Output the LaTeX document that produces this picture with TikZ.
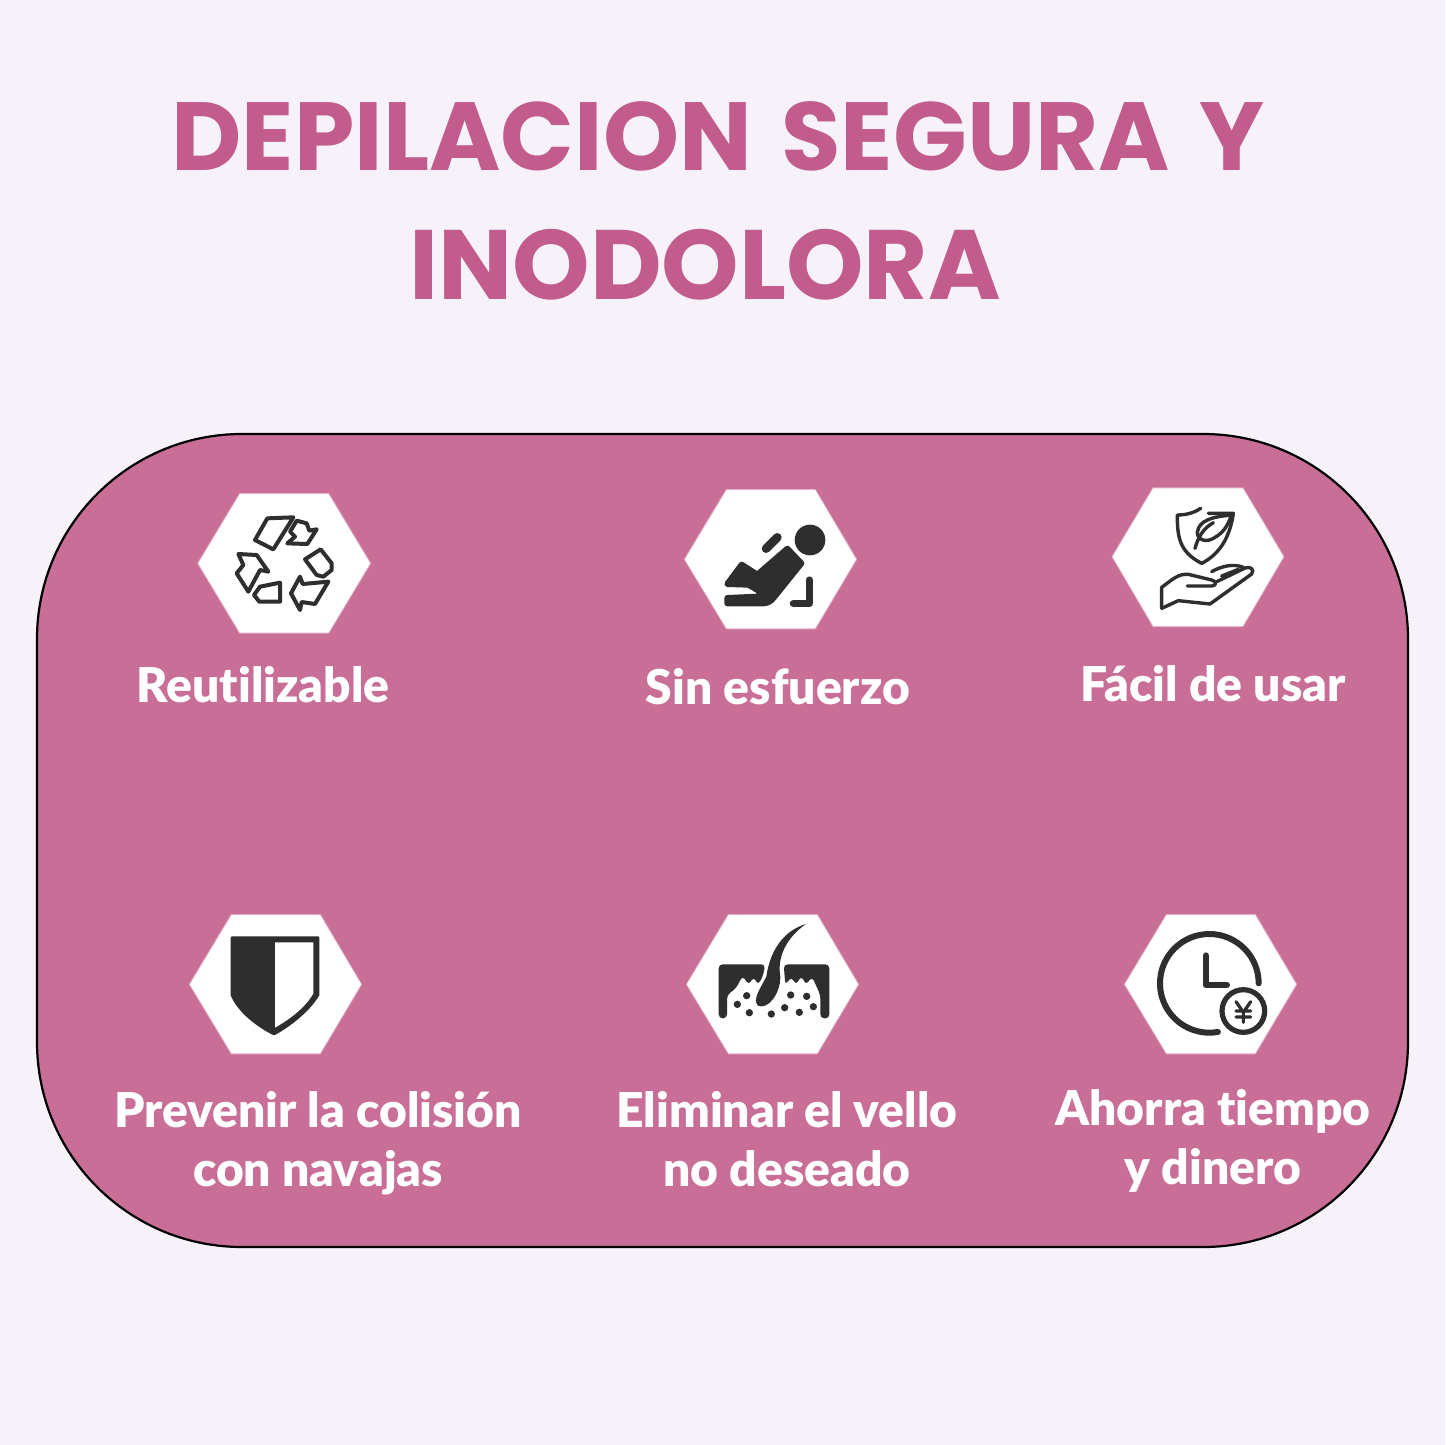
\documentclass[tikz,border=0pt]{standalone}
\usepackage{fontspec}
\setmainfont{Lato}[UprightFont=* Black,Ligatures=NoCommon]
\newfontfamily\titlefont{Poppins}[UprightFont=* Bold]
\definecolor{bgc}{HTML}{F7F2FA}
\definecolor{panelc}{HTML}{C86E97}
\definecolor{titlec}{HTML}{C25C8C}
\definecolor{inkc}{HTML}{2E2E2E}
\tikzset{
 titletext/.style={text=titlec,font=\titlefont\fontsize{48.4}{49}\selectfont,inner sep=0pt,anchor=base},
 labeltext/.style={text=white,font=\fontsize{24}{24}\selectfont,inner sep=0pt,anchor=base},
 ink/.style={draw=inkc,line width=2pt,line join=round,line cap=round},
 thinink/.style={draw=inkc,line width=1.7pt,line join=round,line cap=round},
 inkfill/.style={fill=inkc,draw=inkc,line width=1pt,line join=round,line cap=round},
 zoomed/.style={x=0.16667pt,y=-0.16667pt},
 hexshape/.style={draw=white,draw opacity=.45,line width=1pt,fill=white,line join=round},
}
% left x, right x, top-left x, top-right x, mid y, top y, bottom y
\newcommand{\hexagon}[7]{%
 \path[hexshape] (#1,#5)--(#3,#6)--(#4,#6)--(#2,#5)--(#4,#7)--(#3,#7)--cycle;}
\begin{document}
\begin{tikzpicture}[x=0.5pt,y=-0.5pt]
\useasboundingbox (0,0) rectangle (1445,1445);
\fill[bgc] (0,0) rectangle (1445,1445);
\node[titletext] (t1) at (718,170) {DEPILACION\ \hspace{4.5pt}SEGURA\ \hspace{4.5pt}Y};
\node[titletext,font=\titlefont\fontsize{49.3}{49}\selectfont] (t2) at (705,299) {INODOLORA};
\draw[fill=panelc,draw=black,line width=1.1pt] (37,434) [rounded corners=102.5pt] rectangle (1408,1247);
% icon 1
\begin{scope}[shift={(180,480)},zoomed]
\hexagon{55}{570}{180}{445}{250}{42}{458}
\draw[ink] (262,115)--(340,112)--(280,208)--(225,180)--cycle;
\draw[ink] (350,122)--(380,130)--(388,152)--(410,148)--(382,192)--(322,190)--(345,170)--(330,155)--cycle;
\draw[ink] (422,208)--(455,250)--(455,270)--(430,290)--(410,285)--(375,238)--cycle;
\draw[ink] (445,305)--(405,372)--(365,366)--(360,390)--(333,340)--(360,290)--(368,312)--cycle;
\draw[ink] (240,320)--(300,308)--(300,365)--(238,365)--(222,345)--cycle;
\draw[ink] (175,222)--(230,225)--(265,275)--(240,270)--(205,335)--(170,280)--(190,255)--cycle;
\end{scope}
% icon 2
\begin{scope}[shift={(670,480)},zoomed]
\hexagon{45}{558}{170}{435}{238}{30}{445}
\fill[inkc] (420,180) circle (46);
\draw[inkc,line width=4.3pt,line cap=round] (288,206)--(322,172);
\draw[inkfill,line width=3pt] (352,206)--(394,250)--(312,352)..controls (302,365) and (292,370) .. (278,370)--(172,370)--(172,354)--(262,350)--(276,338)--(235,314)--(172,312)--(215,254)--(262,284)--cycle;
\draw[inkc,line width=3.6pt,line cap=round,line join=round] (418,300)--(418,370)--(370,370);
\end{scope}
% icon 3
\begin{scope}[shift={(1100,480)},zoomed]
\hexagon{38}{550}{160}{428}{230}{25}{438}
\draw[thinink] (302,85)..controls (280,100) and (255,105) .. (232,105)..controls (232,165) and (235,215) .. (305,250)..controls (360,222) and (390,170) .. (400,100)--(325,100);
\draw[thinink] (395,105)..controls (340,110) and (295,120) .. (292,158)..controls (292,180) and (320,190) .. (345,172)..controls (375,155) and (385,130) .. (395,105);
\draw[thinink] (285,205)..controls (295,170) and (310,145) .. (340,128);
\draw[thinink] (185,385)--(185,322)..controls (215,300) and (235,280) .. (265,283)--(335,300)..controls (350,303) and (350,318) .. (335,318)--(262,318);
\draw[thinink] (185,385)--(235,362)--(330,372)--(455,282)..controls (465,268) and (450,258) .. (435,264)--(350,305);
\draw[thinink] (335,275)..controls (365,258) and (400,250) .. (430,262);
\draw[thinink] (365,288)--(415,268);
\end{scope}
% icon 4
\begin{scope}[shift={(175,905)},zoomed]
\hexagon{45}{558}{170}{435}{238}{30}{445}
\draw[inkfill] (170,97)--(430,97)--(430,270)..controls (400,320) and (340,365) .. (297,388)..controls (250,365) and (190,320) .. (170,270)--cycle;
\fill[white] (300,112)--(415,112)--(415,265)..controls (390,310) and (340,345) .. (300,368)--cycle;
\end{scope}
% icon 5
\begin{scope}[shift={(672,905)},zoomed]
\hexagon{45}{558}{170}{435}{238}{30}{445}
\fill[inkc,rounded corners=2pt] (140,178)--(280,178)--(272,215)--(258,240)--(245,215)--(230,240)--(212,212)--(192,250)--(165,270)--(165,340)--(140,340)--cycle;
\fill[inkc,rounded corners=2pt] (472,178)--(335,178)--(340,240)--(358,215)--(372,240)--(388,212)--(402,240)--(420,215)--(445,270)--(445,340)--(472,340)--cycle;
\fill[inkc] (402,57)..controls (340,75) and (295,130) .. (283,215)..controls (265,250) and (240,285) .. (258,302)..controls (285,315) and (325,270) .. (325,215)..controls (315,160) and (340,100) .. (402,57)--cycle;
\foreach \cx/\cy in {224/272,196/298,232/323,298/327,338/308,382/322,424/305,356/270,404/274}
  \fill[inkc] (\cx,\cy) circle (11);
\end{scope}
% icon 6
\begin{scope}[shift={(1110,905)},zoomed]
\hexagon{45}{558}{170}{435}{238}{30}{445}
\draw[inkc,line width=3pt,line cap=round] (446,235) arc (0:-280:148);
\draw[inkc,line width=3.3pt,line cap=round,line join=round] (288,152)--(288,240)--(350,240);
\draw[inkc,line width=2.6pt,fill=white] (400,318) circle (64);
\draw[inkc,line width=1.6pt,line cap=round] (378,290)--(400,322)--(422,290) (400,322)--(400,352) (378,318)--(422,318) (378,336)--(422,336);
\end{scope}
% labels
\node[labeltext] (l1) at (263,702) {Reutilizable};
\node[labeltext] (l2) at (778,704) {Sin esfuerzo};
\node[labeltext] (l3) at (1213,701) {Fácil de usar};
\node[labeltext] (l4a) at (318,1127) {Prevenir la colisión};
\node[labeltext] (l4b) at (318,1186) {con navajas};
\node[labeltext] (l5a) at (787,1127) {Eliminar el vello};
\node[labeltext] (l5b) at (787,1186) {no deseado};
\node[labeltext] (l6a) at (1213,1125) {Ahorra tiempo};
\node[labeltext] (l6b) at (1213,1184) {y dinero};
\end{tikzpicture}
\end{document}
